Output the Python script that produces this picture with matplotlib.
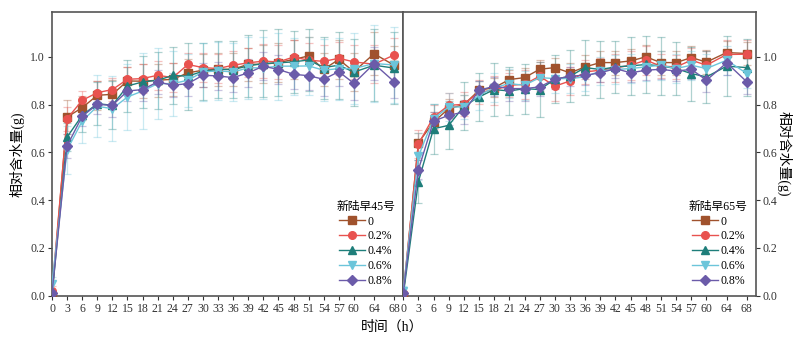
import matplotlib.pyplot as plt

plt.rcParams['font.family'] = ['Liberation Serif', 'Noto Sans CJK SC']
plt.rcParams['axes.unicode_minus'] = False

hours = [0, 3, 6, 9, 12, 15, 18, 21, 24, 27, 30, 33, 36, 39, 42, 45, 48, 51, 54, 57, 60, 64, 68]
xticks = hours
labels = ['0', '0.2%', '0.4%', '0.6%', '0.8%']
colors = ['#A0522D', '#E8524F', '#1E7E7A', '#6CC5DA', '#6B5BA9']
markers = ['s', 'o', '^', 'v', 'D']

# 新陆早45号
a45_0 = [0.00, 0.748, 0.787, 0.839, 0.843, 0.899, 0.898, 0.902, 0.906, 0.933, 0.944, 0.948, 0.948, 0.969, 0.969, 0.976, 0.989, 1.004, 0.948, 0.989, 0.938, 1.013, 0.965]
a45_2 = [0.02, 0.741, 0.818, 0.850, 0.863, 0.906, 0.909, 0.923, 0.913, 0.968, 0.955, 0.951, 0.965, 0.975, 0.982, 0.979, 0.999, 0.986, 0.981, 0.994, 0.979, 0.969, 1.008]
a45_4 = [0.00, 0.664, 0.755, 0.804, 0.797, 0.878, 0.895, 0.902, 0.922, 0.919, 0.940, 0.947, 0.947, 0.962, 0.972, 0.975, 0.979, 0.987, 0.955, 0.965, 0.936, 0.965, 0.953]
a45_6 = [0.05, 0.610, 0.731, 0.793, 0.783, 0.832, 0.857, 0.888, 0.888, 0.902, 0.937, 0.941, 0.937, 0.954, 0.954, 0.961, 0.961, 0.962, 0.944, 0.951, 0.951, 0.972, 0.966]
a45_8 = [0.01, 0.627, 0.751, 0.801, 0.797, 0.857, 0.863, 0.895, 0.881, 0.888, 0.923, 0.920, 0.913, 0.933, 0.961, 0.947, 0.927, 0.921, 0.906, 0.938, 0.889, 0.971, 0.896]
e45_0 = [0.01, 0.07, 0.05, 0.06, 0.06, 0.06, 0.07, 0.07, 0.07, 0.06, 0.07, 0.07, 0.07, 0.07, 0.08, 0.08, 0.08, 0.08, 0.07, 0.08, 0.08, 0.09, 0.08]
e45_2 = [0.02, 0.05, 0.04, 0.05, 0.05, 0.05, 0.06, 0.06, 0.06, 0.05, 0.06, 0.06, 0.06, 0.06, 0.07, 0.07, 0.07, 0.07, 0.07, 0.07, 0.07, 0.08, 0.07]
e45_4 = [0.01, 0.06, 0.07, 0.09, 0.10, 0.11, 0.11, 0.12, 0.12, 0.14, 0.12, 0.12, 0.12, 0.13, 0.14, 0.14, 0.13, 0.13, 0.13, 0.14, 0.14, 0.15, 0.15]
e45_6 = [0.03, 0.10, 0.09, 0.13, 0.135, 0.14, 0.16, 0.15, 0.135, 0.11, 0.12, 0.12, 0.12, 0.13, 0.13, 0.14, 0.12, 0.12, 0.13, 0.13, 0.15, 0.16, 0.16]
e45_8 = [0.01, 0.05, 0.04, 0.04, 0.05, 0.04, 0.05, 0.05, 0.05, 0.05, 0.05, 0.06, 0.06, 0.06, 0.06, 0.06, 0.06, 0.06, 0.07, 0.06, 0.07, 0.07, 0.07]

# 新陆早65号
a65_0 = [0.00, 0.640, 0.727, 0.783, 0.800, 0.860, 0.871, 0.905, 0.913, 0.948, 0.955, 0.933, 0.958, 0.976, 0.976, 0.983, 1.000, 0.976, 0.976, 0.997, 0.978, 1.018, 1.014]
a65_2 = [0.01, 0.635, 0.748, 0.797, 0.801, 0.853, 0.860, 0.881, 0.885, 0.919, 0.877, 0.899, 0.937, 0.944, 0.954, 0.965, 0.986, 0.961, 0.958, 0.986, 0.965, 1.010, 1.011]
a65_4 = [0.00, 0.477, 0.699, 0.713, 0.793, 0.832, 0.863, 0.857, 0.867, 0.863, 0.906, 0.919, 0.955, 0.947, 0.958, 0.962, 0.968, 0.962, 0.951, 0.930, 0.916, 0.961, 0.955]
a65_6 = [0.02, 0.583, 0.741, 0.790, 0.790, 0.839, 0.871, 0.888, 0.881, 0.913, 0.909, 0.909, 0.916, 0.941, 0.947, 0.951, 0.958, 0.965, 0.951, 0.965, 0.951, 0.986, 0.930]
a65_8 = [0.01, 0.527, 0.731, 0.755, 0.769, 0.860, 0.877, 0.867, 0.867, 0.874, 0.906, 0.919, 0.923, 0.933, 0.951, 0.933, 0.944, 0.948, 0.940, 0.948, 0.902, 0.975, 0.895]
e65_0 = [0.01, 0.04, 0.04, 0.04, 0.04, 0.04, 0.04, 0.04, 0.04, 0.04, 0.04, 0.04, 0.05, 0.05, 0.05, 0.05, 0.05, 0.05, 0.05, 0.05, 0.05, 0.05, 0.05]
e65_2 = [0.01, 0.06, 0.05, 0.05, 0.05, 0.05, 0.06, 0.05, 0.06, 0.06, 0.06, 0.06, 0.05, 0.05, 0.06, 0.06, 0.06, 0.05, 0.05, 0.05, 0.06, 0.06, 0.06]
e65_4 = [0.01, 0.09, 0.105, 0.10, 0.10, 0.10, 0.11, 0.10, 0.105, 0.115, 0.10, 0.11, 0.115, 0.12, 0.11, 0.12, 0.12, 0.12, 0.11, 0.113, 0.108, 0.125, 0.12]
e65_6 = [0.02, 0.10, 0.06, 0.06, 0.05, 0.06, 0.06, 0.06, 0.06, 0.05, 0.06, 0.06, 0.06, 0.06, 0.06, 0.06, 0.06, 0.06, 0.06, 0.06, 0.06, 0.06, 0.06]
e65_8 = [0.01, 0.04, 0.04, 0.04, 0.05, 0.04, 0.04, 0.05, 0.05, 0.04, 0.04, 0.04, 0.04, 0.04, 0.04, 0.04, 0.04, 0.04, 0.04, 0.04, 0.05, 0.05, 0.05]

panels = [
    ('新陆早45号', [a45_0, a45_2, a45_4, a45_6, a45_8], [e45_0, e45_2, e45_4, e45_6, e45_8]),
    ('新陆早65号', [a65_0, a65_2, a65_4, a65_6, a65_8], [e65_0, e65_2, e65_4, e65_6, e65_8]),
]

fig = plt.figure(figsize=(8, 3.39), dpi=100)
ax1 = fig.add_axes([0.065, 0.128, 0.439, 0.836])
ax2 = fig.add_axes([0.504, 0.128, 0.441, 0.836])
spine_col = '#555555'

for ax, (title, series, errs) in zip([ax1, ax2], panels):
    # error bars first, faint
    for vals, err, c in zip(series, errs, colors):
        ax.errorbar(hours, vals, yerr=err, fmt='none', ecolor=c, alpha=0.35,
                    elinewidth=0.9, capsize=3, capthick=0.9, zorder=1)
    handles = []
    for i, (vals, c, m, lab) in enumerate(zip(series, colors, markers, labels)):
        h, = ax.plot(hours, vals, color=c, marker=m, ms=5.5, lw=1.0,
                     mec=c, label=lab, zorder=3 + i)
        handles.append(h)
    ax.set_xlim(0, 69.8)
    ax.set_ylim(0, 1.187)
    ax.set_xticks(xticks)
    ax.set_yticks([0.0, 0.2, 0.4, 0.6, 0.8, 1.0])
    ax.set_yticklabels(['0.0', '0.2', '0.4', '0.6', '0.8', '1.0'])
    ax.tick_params(labelsize=8.5, direction='out', length=3, width=0.8, colors='#333333', pad=2)
    for s in ax.spines.values():
        s.set_color(spine_col)
        s.set_linewidth(1.2)
    leg = ax.legend(handles=handles, title=title, loc='lower right', frameon=False,
                    fontsize=8.5, title_fontsize=8.5, handlelength=2.2,
                    handletextpad=0.2, labelspacing=0.25, borderaxespad=0.3)

ax2.yaxis.tick_right()
ax2.yaxis.set_label_position('right')

ax1.set_ylabel('相对含水量(g)', fontsize=10)
ax2.set_ylabel('相对含水量(g)', fontsize=10, rotation=270, labelpad=10)
fig.text(0.49, 0.035, '时间（h）', ha='center', va='center', fontsize=10)

fig.savefig('out.png', dpi=100)
